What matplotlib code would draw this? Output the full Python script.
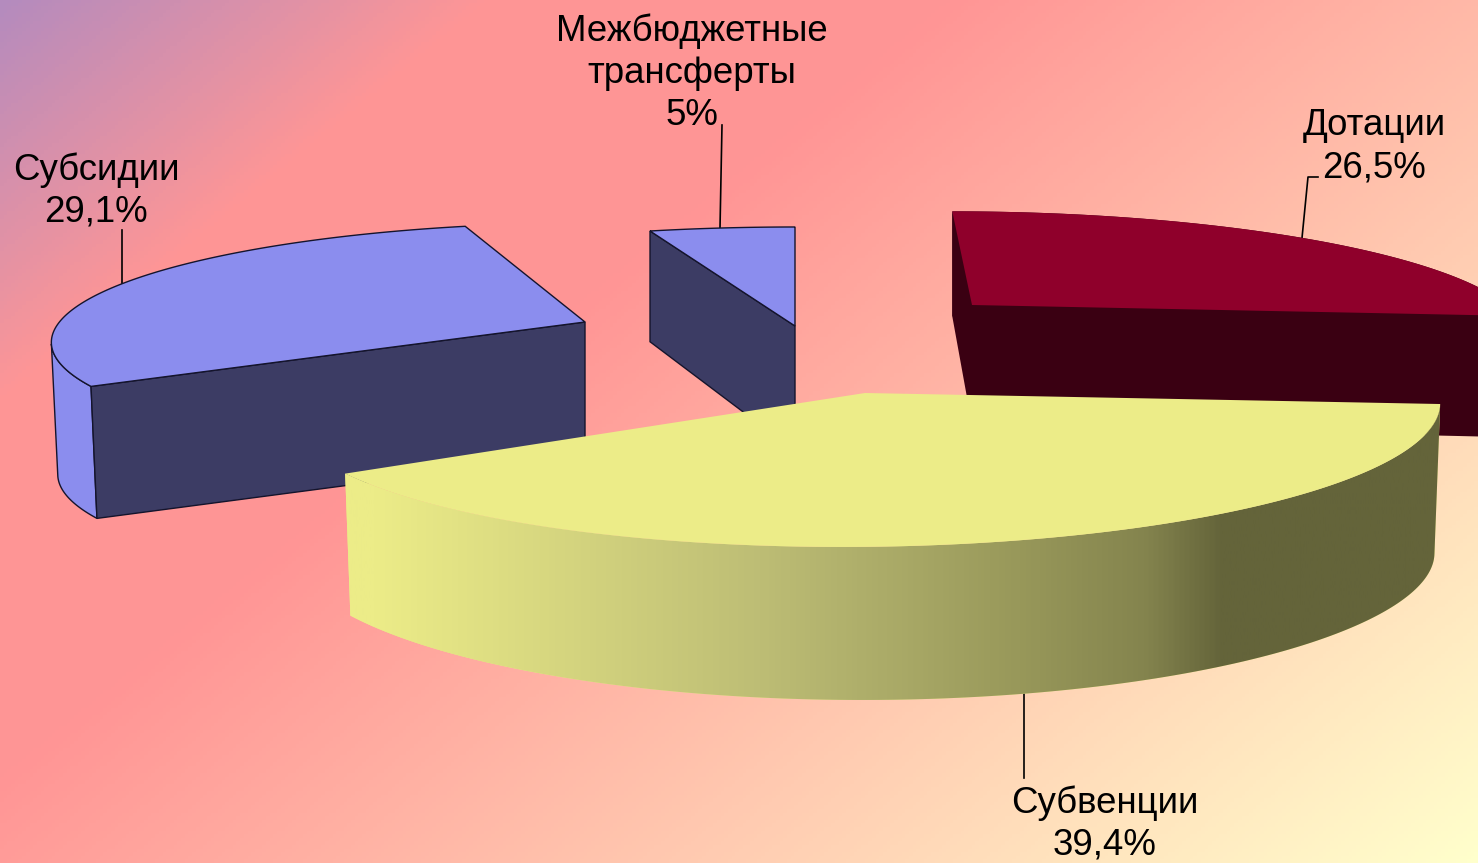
import numpy as np
import matplotlib
matplotlib.use("Agg")
import matplotlib.pyplot as plt
from matplotlib.colors import LinearSegmentedColormap
from matplotlib.patches import Polygon

plt.rcParams["font.family"] = ["Liberation Sans", "DejaVu Sans"]

categories = ["Дотации", "Субвенции", "Субсидии", "Межбюджетные\nтрансферты"]
values = [26.5, 39.4, 29.1, 5]

W, H = 1478, 863

# layout of every exploded slice on the picture
apex = [(972, 305), (865, 393), (585, 322), (795, 326)]
rim_a = [535, 573, 523, 566]
rim_d = [114, 137, 114, 120.5]
rim_g = [0.217, 0.11, 0.15, 0.217]
rim_kx = [24, -13, -26, 0]
rim_ky = [0, -2, 3, 0]
depth = [120, 153, 132, 125]
depth_k = [0.125, 0.0, 0.0, 0.12]
depth_u = [0, 5.7, 0, 0]
depth_uu = [0, -8.8, 0, 0]
narrow = [0.0, 0.01, 0.012, 0.0]
top_col = ["#8f002b", "#ecec88", "#8b8dee", "#8b8dee"]
cut_col = ["#3a0012", "#666638", "#3c3c64", "#3c3c64"]
side_col = ["#3a0012", "#ecec88", "#8b8dee", "#8b8dee"]
show_cuts = [(True, True), (False, False), (True, False), (True, False)]
wall_frac = [1, 1, 0.2, 0]
edge_w = [0, 0, 1.0, 1.0]
draw_order = [0, 3, 2, 1]

label_pos = [(1374, 147), (1105, 824), (96, 191), (692, 73)]
leaders = [
    ([1318, 1308, 1302], [177, 177, 238]),
    ([1024, 1024], [692, 778]),
    ([122, 122], [230, 287]),
    ([722, 720], [125, 228]),
]

bg_stops = [(0.0, "#b48bbe"), (0.19, "#fe9696"), (0.375, "#ff9595"), (1.0, "#ffffcc")]
side_stops = [(0.0, "#ecec88"), (0.187, "#ecec88"), (0.482, "#bdbd75"), (0.695, "#959558"),
              (0.776, "#84844e"), (0.835, "#64643a"), (1.0, "#64643a")]


def rim_point(i, theta):
    u, v = np.sin(theta), -np.cos(theta)
    f = 1 / (1 - rim_g[i] * v)
    x = (rim_a[i] * u + rim_kx[i] * v) * f
    y = (rim_d[i] * v + rim_ky[i] * u) * f
    return x, y, u, v


def top_and_bottom(i, theta):
    x, y, u, v = rim_point(i, theta)
    ax0, ay0 = apex[i]
    top = np.column_stack([ax0 + x, ay0 + y])
    h = depth[i] * (1 + depth_k[i] * v) + depth_u[i] * u + depth_uu[i] * u ** 2
    bottom = np.column_stack([ax0 + x * (1 - narrow[i]), ay0 + y + h])
    return top, bottom


fig = plt.figure(figsize=(W / 100, H / 100), dpi=100)
ax = fig.add_axes([0, 0, 1, 1])

xx, yy = np.meshgrid(np.linspace(0, W, 400), np.linspace(0, H, 240))
bg = (xx + 1.22 * yy) / (W + 1.22 * H)
ax.imshow(bg, extent=(0, W, H, 0), aspect="auto", zorder=0, vmin=0, vmax=1,
          cmap=LinearSegmentedColormap.from_list("bg", bg_stops))

edges = np.cumsum([0] + values) / sum(values) * 2 * np.pi

for pos, i in enumerate(draw_order):
    z = 2 + pos
    theta = np.linspace(edges[i], edges[i + 1], 200)
    top, bottom = top_and_bottom(i, theta)
    ap = np.array(apex[i], dtype=float)
    ap_b = ap + (0, depth[i])
    ec = "#14142c" if edge_w[i] else "none"
    lw = edge_w[i]

    n = int(len(theta) * wall_frac[i])
    if n > 1:
        outer = Polygon(np.vstack([top[:n], bottom[:n][::-1]]), closed=True, fc=side_col[i], ec=ec, lw=lw, zorder=z)
        ax.add_patch(outer)
        if i == 1:
            # the curved wall of the big slice shades from left to right
            grad = np.linspace(0, 1, 512).reshape(1, -1)
            im = ax.imshow(grad, extent=(130, 1440, H, 0), aspect="auto", zorder=z, vmin=0, vmax=1,
                           cmap=LinearSegmentedColormap.from_list("side", side_stops))
            im.set_clip_path(outer)

    if show_cuts[i][0]:
        ax.add_patch(Polygon([ap, top[0], bottom[0], ap_b], closed=True, fc=cut_col[i], ec=ec, lw=lw, zorder=z))
    if show_cuts[i][1]:
        ax.add_patch(Polygon([ap, top[-1], bottom[-1], ap_b], closed=True, fc=cut_col[i], ec=ec, lw=lw, zorder=z))

    ax.add_patch(Polygon(np.vstack([ap, top]), closed=True, fc=top_col[i], ec=ec, lw=lw, zorder=z))

for i, cat in enumerate(categories):
    label = cat + "\n" + f"{values[i]:g}".replace(".", ",") + "%"
    ax.text(label_pos[i][0], label_pos[i][1], label, ha="center", va="center",
            fontsize=26.4, linespacing=1.26, color="black", zorder=10)
    ax.plot(leaders[i][0], leaders[i][1], color="black", lw=1.2, zorder=1)

ax.set_xlim(0, W)
ax.set_ylim(H, 0)
ax.axis("off")

fig.savefig("out.png", dpi=100)
